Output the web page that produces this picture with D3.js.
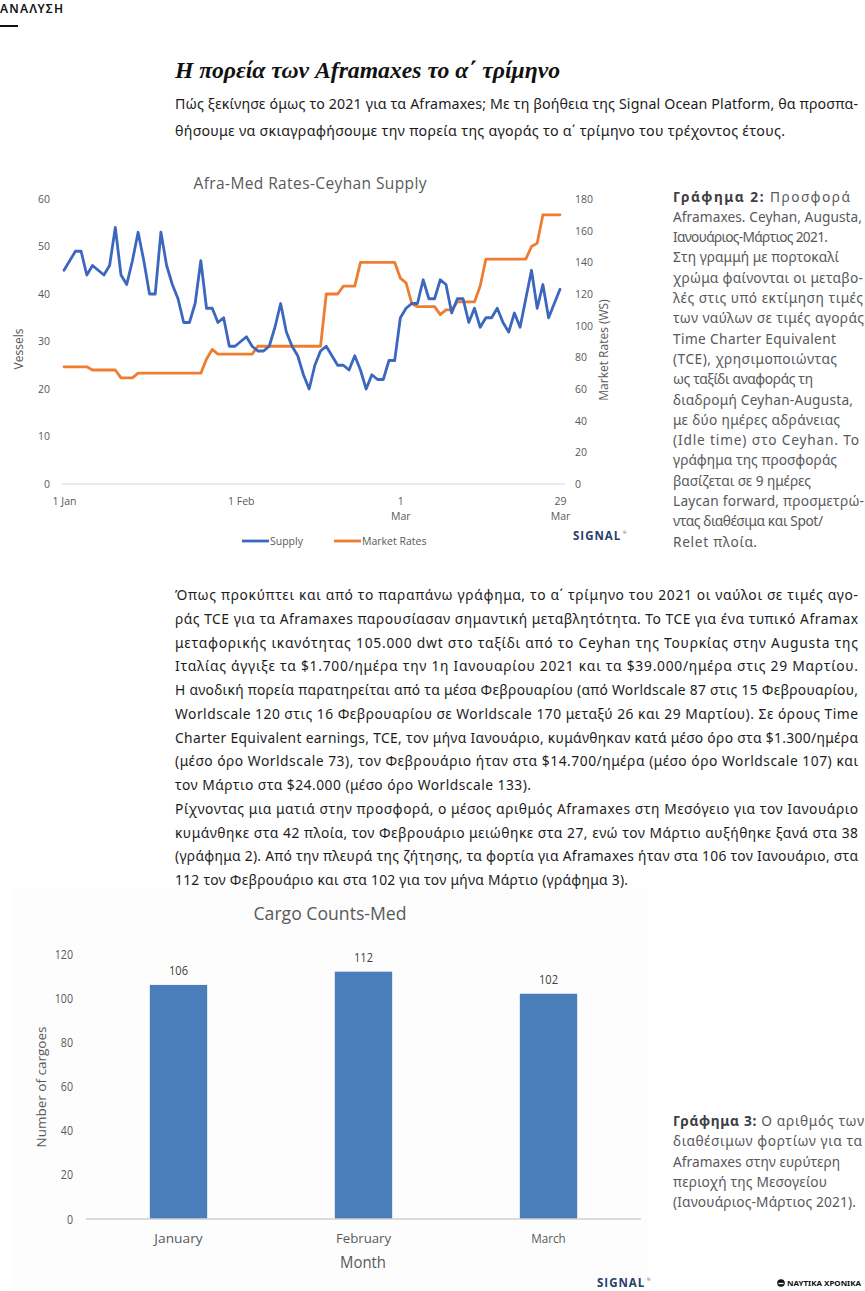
<!DOCTYPE html>
<html>
<head>
<meta charset="utf-8">
<script src="https://cdn.jsdelivr.net/npm/d3@7"></script>
<style>
  html, body { margin: 0; padding: 0; background: #fff; }
  svg { display: block; }
</style>
</head>
<body>
<svg id="page" width="865" height="1291"></svg>
<script>
// ---- data: graph 2 (daily, 1 Jan - 29 Mar 2021) ----
var startDay = new Date(2021, 0, 1);
var supply = [45,47,49,49,44,46,45,44,46,54, 44,42,47,53,47,40,40,53,46,42,
              39,34,34,38,47,37,37,34,35,29, 29,30,31,29,28,28,29,33,38,32,
              29,27,23,20,25,28,29,27,25,25, 24,27,24,20,23,22,22,26,26,35,
              37,38,38,43,39,39,43,42,36,39, 39,34,37,33,35,35,37,34,32,36,
              33,39,45,37,42,35,38,41];
var marketRates = [74,74,74,74,74,72,72,72,72,72, 67,67,67,70,70,70,70,70,70,70,
                   70,70,70,70,70,79,85,82,82,82, 82,82,82,82,87,87,87,87,87,87,
                   87,87,87,87,87,87,120,120,120,125, 125,125,140,140,140,140,140,140,140,130,
                   127,114,112,112,112,112,107,110,110,115, 115,115,115,125,142,142,142,142,142,142,
                   142,142,150,152,170,170,170,170];
var vesselTicks = [0,10,20,30,40,50,60];
var rateTicks = [0,20,40,60,80,100,120,140,160,180];
var dateTicks = [new Date(2021,0,1), new Date(2021,1,1), new Date(2021,2,1), new Date(2021,2,29)];
var dateTickLabels = [["1 Jan"], ["1 Feb"], ["1","Mar"], ["29","Mar"]];

// ---- data: graph 3 ----
var months = ["January", "February", "March"];
var cargoCounts = [106, 112, 102];
var cargoTicks = [0,20,40,60,80,100,120];

// ---- texts ----
var introLines = [
  "Πώς ξεκίνησε όμως το 2021 για τα Aframaxes; Με τη βοήθεια της Signal Ocean Platform, θα προσπα-",
  "θήσουμε να σκιαγραφήσουμε την πορεία της αγοράς το α΄ τρίμηνο του τρέχοντος έτους."
];
var bodyLines = [
  "Όπως προκύπτει και από το παραπάνω γράφημα, το α΄ τρίμηνο του 2021 οι ναύλοι σε τιμές αγο-",
  "ράς TCE για τα Aframaxes παρουσίασαν σημαντική μεταβλητότητα. Το TCE για ένα τυπικό Aframax",
  "μεταφορικής ικανότητας 105.000 dwt στο ταξίδι από το Ceyhan της Τουρκίας στην Augusta της",
  "Ιταλίας άγγιξε τα $1.700/ημέρα την 1η Ιανουαρίου 2021 και τα $39.000/ημέρα στις 29 Μαρτίου.",
  "Η ανοδική πορεία παρατηρείται από τα μέσα Φεβρουαρίου (από Worldscale 87 στις 15 Φεβρουαρίου,",
  "Worldscale 120 στις 16 Φεβρουαρίου σε Worldscale 170 μεταξύ 26 και 29 Μαρτίου). Σε όρους Time",
  "Charter Equivalent earnings, TCE, τον μήνα Ιανουάριο, κυμάνθηκαν κατά μέσο όρο στα $1.300/ημέρα",
  "(μέσο όρο Worldscale 73), τον Φεβρουάριο ήταν στα $14.700/ημέρα (μέσο όρο Worldscale 107) και",
  "τον Μάρτιο στα $24.000 (μέσο όρο Worldscale 133).",
  "Ρίχνοντας μια ματιά στην προσφορά, ο μέσος αριθμός Aframaxes στη Μεσόγειο για τον Ιανουάριο",
  "κυμάνθηκε στα 42 πλοία, τον Φεβρουάριο μειώθηκε στα 27, ενώ τον Μάρτιο αυξήθηκε ξανά στα 38",
  "(γράφημα 2). Από την πλευρά της ζήτησης, τα φορτία για Aframaxes ήταν στα 106 τον Ιανουάριο, στα",
  "112 τον Φεβρουάριο και στα 102 για τον μήνα Μάρτιο (γράφημα 3)."
];
var caption2Lines = [
  "Γράφημα 2: Προσφορά", "Aframaxes. Ceyhan, Augusta,", "Ιανουάριος-Μάρτιος 2021.",
  "Στη γραμμή με πορτοκαλί", "χρώμα φαίνονται οι μεταβο-", "λές στις υπό εκτίμηση τιμές",
  "των ναύλων σε τιμές αγοράς", "Time Charter Equivalent", "(TCE), χρησιμοποιώντας",
  "ως ταξίδι αναφοράς τη", "διαδρομή Ceyhan-Augusta,", "με δύο ημέρες αδράνειας",
  "(Idle time) στο Ceyhan. Το", "γράφημα της προσφοράς", "βασίζεται σε 9 ημέρες",
  "Laycan forward, προσμετρώ-", "ντας διαθέσιμα και Spot/", "Relet πλοία."
];
var caption3Lines = [
  "Γράφημα 3: Ο αριθμός των", "διαθέσιμων φορτίων για τα", "Aframaxes στην ευρύτερη",
  "περιοχή της Μεσογείου", "(Ιανουάριος-Μάρτιος 2021)."
];

// line right edges (layout)
var introEnds = [858, 785];
var bodyEnds = [858,858,858,858,858,858,858,858,531,858,858,858,628];
var caption2Ends = [850,862,828,839,863,863,864,836,837,813,853,840,859,837,811,864,823,757];
var caption3Ends = [864,862,840,827,856];

var svg = d3.select("#page");
var bodyFont = "'Noto Sans', 'Open Sans', sans-serif";
var chartFont = "'Open Sans', 'Noto Sans', sans-serif";

function textBlock(lines, ends, x, y0, step, size, fill) {
  var g = svg.append("g")
    .attr("font-family", bodyFont)
    .attr("font-size", size)
    .attr("fill", fill);
  g.selectAll("text")
    .data(lines)
    .join("text")
    .attr("x", x)
    .attr("y", function(d, i) { return y0 + i * step; })
    .attr("textLength", function(d, i) { return ends[i] - x; })
    .attr("lengthAdjust", "spacing")
    .each(function(d) {
      var t = d3.select(this);
      var m = d.match(/^(Γράφημα \d:)(.*)$/);
      if (m) {
        t.append("tspan").attr("font-weight", "bold").attr("fill", "#3f4042").text(m[1]);
        t.append("tspan").text(m[2]);
      } else {
        t.text(d);
      }
    });
}

// faint panel behind graph 3 (drawn first so text stays on top)
svg.append("rect").attr("x", 10).attr("y", 888).attr("width", 638).attr("height", 403)
  .attr("fill", "#fdfdfd");

// ---- header ----
svg.append("text")
  .attr("x", 0).attr("y", 13)
  .attr("font-family", bodyFont).attr("font-size", 12).attr("font-weight", 600)
  .attr("letter-spacing", 1.2).attr("fill", "#111")
  .text("ΑΝΑΛΥΣΗ");
svg.append("rect").attr("x", 0).attr("y", 25).attr("width", 18).attr("height", 2).attr("fill", "#111");

svg.append("text")
  .attr("x", 175).attr("y", 78)
  .attr("font-family", "'Liberation Serif', 'DejaVu Serif', serif")
  .attr("font-size", 24).attr("font-weight", "bold").attr("font-style", "italic")
  .attr("fill", "#111")
  .attr("textLength", 385).attr("lengthAdjust", "spacingAndGlyphs")
  .text("Η πορεία των Aframaxes το α΄ τρίμηνο");

textBlock(introLines, introEnds, 175, 109, 27, 14.2, "#1c1c1c");
textBlock(bodyLines, bodyEnds, 175, 600, 23.75, 13.8, "#1c1c1c");
textBlock(caption2Lines, caption2Ends, 673, 201.5, 20.3, 13.7, "#58595b");
textBlock(caption3Lines, caption3Ends, 673, 1126, 20.3, 13.7, "#58595b");

// ---- graph 2: line chart ----
var dates = supply.map(function(d, i) { return d3.timeDay.offset(startDay, i); });
var x = d3.scaleTime().domain([dates[0], dates[dates.length - 1]]).range([64, 560]);
var yL = d3.scaleLinear().domain([0, 60]).range([484, 199]);
var yR = d3.scaleLinear().domain([0, 180]).range([484, 199]);

var lc = svg.append("g").attr("font-family", chartFont);

lc.append("text")
  .attr("x", 310).attr("y", 189).attr("text-anchor", "middle")
  .attr("font-size", 15.5).attr("fill", "#595959")
  .attr("textLength", 233).attr("lengthAdjust", "spacing")
  .text("Afra-Med Rates-Ceyhan Supply");

lc.append("line")
  .attr("x1", 62).attr("x2", 565)
  .attr("y1", yL(0)).attr("y2", yL(0))
  .attr("stroke", "#d9d9d9").attr("stroke-width", 1);

var axL = lc.append("g").attr("transform", "translate(50,0)")
  .call(d3.axisLeft(yL).tickValues(vesselTicks).tickSize(0).tickPadding(0));
var axR = lc.append("g").attr("transform", "translate(575,0)")
  .call(d3.axisRight(yR).tickValues(rateTicks).tickSize(0).tickPadding(0));
[axL, axR].forEach(function(a) {
  a.select(".domain").remove();
  a.selectAll("text").attr("font-family", chartFont).attr("font-size", 10.5).attr("fill", "#595959");
});

var axB = lc.append("g").attr("transform", "translate(0,496)")
  .call(d3.axisBottom(x).tickValues(dateTicks).tickSize(0).tickPadding(0).tickFormat(""));
axB.select(".domain").remove();
axB.selectAll(".tick").each(function(d, i) {
  var t = d3.select(this).append("text")
    .attr("font-family", chartFont).attr("font-size", 10.5).attr("fill", "#595959")
    .attr("text-anchor", "middle");
  dateTickLabels[i].forEach(function(s, j) {
    t.append("tspan").attr("x", 0).attr("y", 9 + j * 15).text(s);
  });
});

lc.append("text")
  .attr("transform", "translate(23,349) rotate(-90)")
  .attr("text-anchor", "middle").attr("font-size", 12).attr("fill", "#595959")
  .text("Vessels");
lc.append("text")
  .attr("transform", "translate(608,350) rotate(-90)")
  .attr("text-anchor", "middle").attr("font-size", 12).attr("fill", "#595959")
  .text("Market Rates (WS)");

var supplyLine = d3.line().x(function(d, i) { return x(dates[i]); }).y(function(d) { return yL(d); });
var rateLine = d3.line().x(function(d, i) { return x(dates[i]); }).y(function(d) { return yR(d); });

lc.append("path").datum(marketRates)
  .attr("d", rateLine).attr("fill", "none")
  .attr("stroke", "#ed7d31").attr("stroke-width", 2.8)
  .attr("stroke-linejoin", "round").attr("stroke-linecap", "round");
lc.append("path").datum(supply)
  .attr("d", supplyLine).attr("fill", "none")
  .attr("stroke", "#3b67bf").attr("stroke-width", 2.8)
  .attr("stroke-linejoin", "round").attr("stroke-linecap", "round");

// legend
var legend = [
  { name: "Supply", color: "#3b67bf", x: 242 },
  { name: "Market Rates", color: "#ed7d31", x: 334 }
];
var lg = lc.selectAll(".lg").data(legend).join("g")
  .attr("transform", function(d) { return "translate(" + d.x + ",541)"; });
lg.append("line").attr("x1", 0).attr("x2", 27)
  .attr("stroke", function(d) { return d.color; }).attr("stroke-width", 2.8);
lg.append("text").attr("x", 28).attr("y", 4)
  .attr("font-size", 10.5).attr("fill", "#595959")
  .text(function(d) { return d.name; });

function signalLogo(px, py) {
  svg.append("text")
    .attr("x", px).attr("y", py)
    .attr("font-family", chartFont).attr("font-size", 11.5).attr("font-weight", 700)
    .attr("letter-spacing", 1).attr("fill", "#24406b")
    .text("SIGNAL");
  svg.append("text")
    .attr("x", px + 50).attr("y", py - 6)
    .attr("font-family", chartFont).attr("font-size", 4).attr("fill", "#24406b")
    .text("®");
}
signalLogo(573, 540);

// ---- graph 3: bar chart ----
var bc = svg.append("g").attr("font-family", chartFont).attr("fill", "#595959");
var xb = d3.scaleBand().domain(months).range([86, 641]).paddingInner(0.69).paddingOuter(0.345);
var yb = d3.scaleLinear().domain([0, 120]).range([1219, 954]);

bc.append("text")
  .attr("x", 330).attr("y", 920).attr("text-anchor", "middle")
  .attr("font-size", 19).attr("textLength", 153).attr("lengthAdjust", "spacingAndGlyphs")
  .text("Cargo Counts-Med");

var axY = bc.append("g").attr("transform", "translate(73,0)")
  .call(d3.axisLeft(yb).tickValues(cargoTicks).tickSize(0).tickPadding(0));
axY.select(".domain").remove();
axY.selectAll("text").attr("font-family", chartFont).attr("font-size", 12.5).attr("fill", "#595959")
  .attr("transform", "scale(0.85,1)");

bc.selectAll(".bar").data(cargoCounts).join("rect")
  .attr("x", function(d, i) { return xb(months[i]); })
  .attr("y", function(d) { return yb(d); })
  .attr("width", xb.bandwidth())
  .attr("height", function(d) { return yb(0) - yb(d); })
  .attr("fill", "#4a7ebb");

bc.append("line")
  .attr("x1", 86).attr("x2", 641).attr("y1", yb(0)).attr("y2", yb(0))
  .attr("stroke", "#d0d0d0").attr("stroke-width", 1.5);

bc.selectAll(".val").data(cargoCounts).join("text")
  .attr("x", function(d, i) { return xb(months[i]) + xb.bandwidth() / 2; })
  .attr("y", function(d) { return yb(d) - 10; })
  .attr("text-anchor", "middle").attr("font-size", 12.5).attr("fill", "#404040")
  .attr("textLength", 19).attr("lengthAdjust", "spacingAndGlyphs")
  .text(function(d) { return d; });

var axX = bc.append("g").attr("transform", "translate(0," + yb(0) + ")")
  .call(d3.axisBottom(xb).tickSize(0).tickPadding(0).tickFormat(""));
axX.select(".domain").remove();
axX.selectAll(".tick").append("text")
  .attr("y", 24).attr("text-anchor", "middle")
  .attr("font-family", chartFont).attr("font-size", 13.5).attr("fill", "#595959")
  .attr("textLength", function(d) { return d.length * 6.9; }).attr("lengthAdjust", "spacingAndGlyphs")
  .text(function(d) { return d; });

bc.append("text")
  .attr("x", 363).attr("y", 1268).attr("text-anchor", "middle")
  .attr("font-size", 16).attr("textLength", 46).attr("lengthAdjust", "spacingAndGlyphs")
  .text("Month");

bc.append("text")
  .attr("transform", "translate(46,1087) rotate(-90)")
  .attr("text-anchor", "middle").attr("font-size", 13.5)
  .text("Number of cargoes");

signalLogo(597, 1287);

// footer mark
svg.append("circle").attr("cx", 781).attr("cy", 1283).attr("r", 3.8).attr("fill", "#111");
svg.append("path").attr("d", "M778.5,1283.5 L783.5,1283.5").attr("stroke", "#fff").attr("stroke-width", 1.3);
svg.append("text")
  .attr("x", 787).attr("y", 1286)
  .attr("font-family", bodyFont).attr("font-size", 7.5).attr("font-weight", 700)
  .attr("fill", "#111").attr("textLength", 74).attr("lengthAdjust", "spacingAndGlyphs")
  .text("ΝΑΥΤΙΚΑ ΧΡΟΝΙΚΑ");
</script>
</body>
</html>
